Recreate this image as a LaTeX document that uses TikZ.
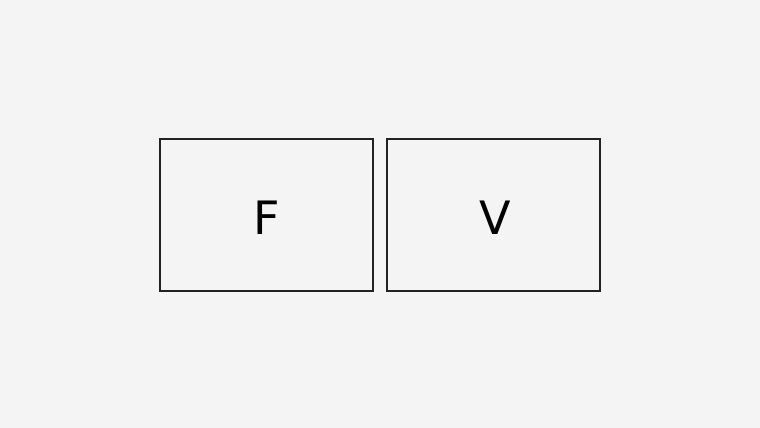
\documentclass[tikz,border=0pt]{standalone}
\usepackage{fontspec}
\setmainfont{DejaVu Sans}
\definecolor{bg}{HTML}{F4F4F4}
\definecolor{edge}{HTML}{222222}
\begin{document}
\begin{tikzpicture}[x=1pt,y=-1pt,
  panel/.style={draw=edge,line width=2pt,fill=bg,minimum width=213pt,minimum height=152pt,inner sep=0pt},
  letter/.style={font=\fontsize{46}{46}\selectfont,anchor=base,inner sep=0pt}]
\fill[bg] (0,0) rectangle (760,428);
\useasboundingbox (0,0) rectangle (760,428);
\node[panel] (f) at (266.8,214.5) {};
\node[panel] (v) at (493,214.5) {};
\node[letter] (ft) at (267,234) {F};
\node[letter] (vt) at (495,234) {V};
\end{tikzpicture}
\end{document}
